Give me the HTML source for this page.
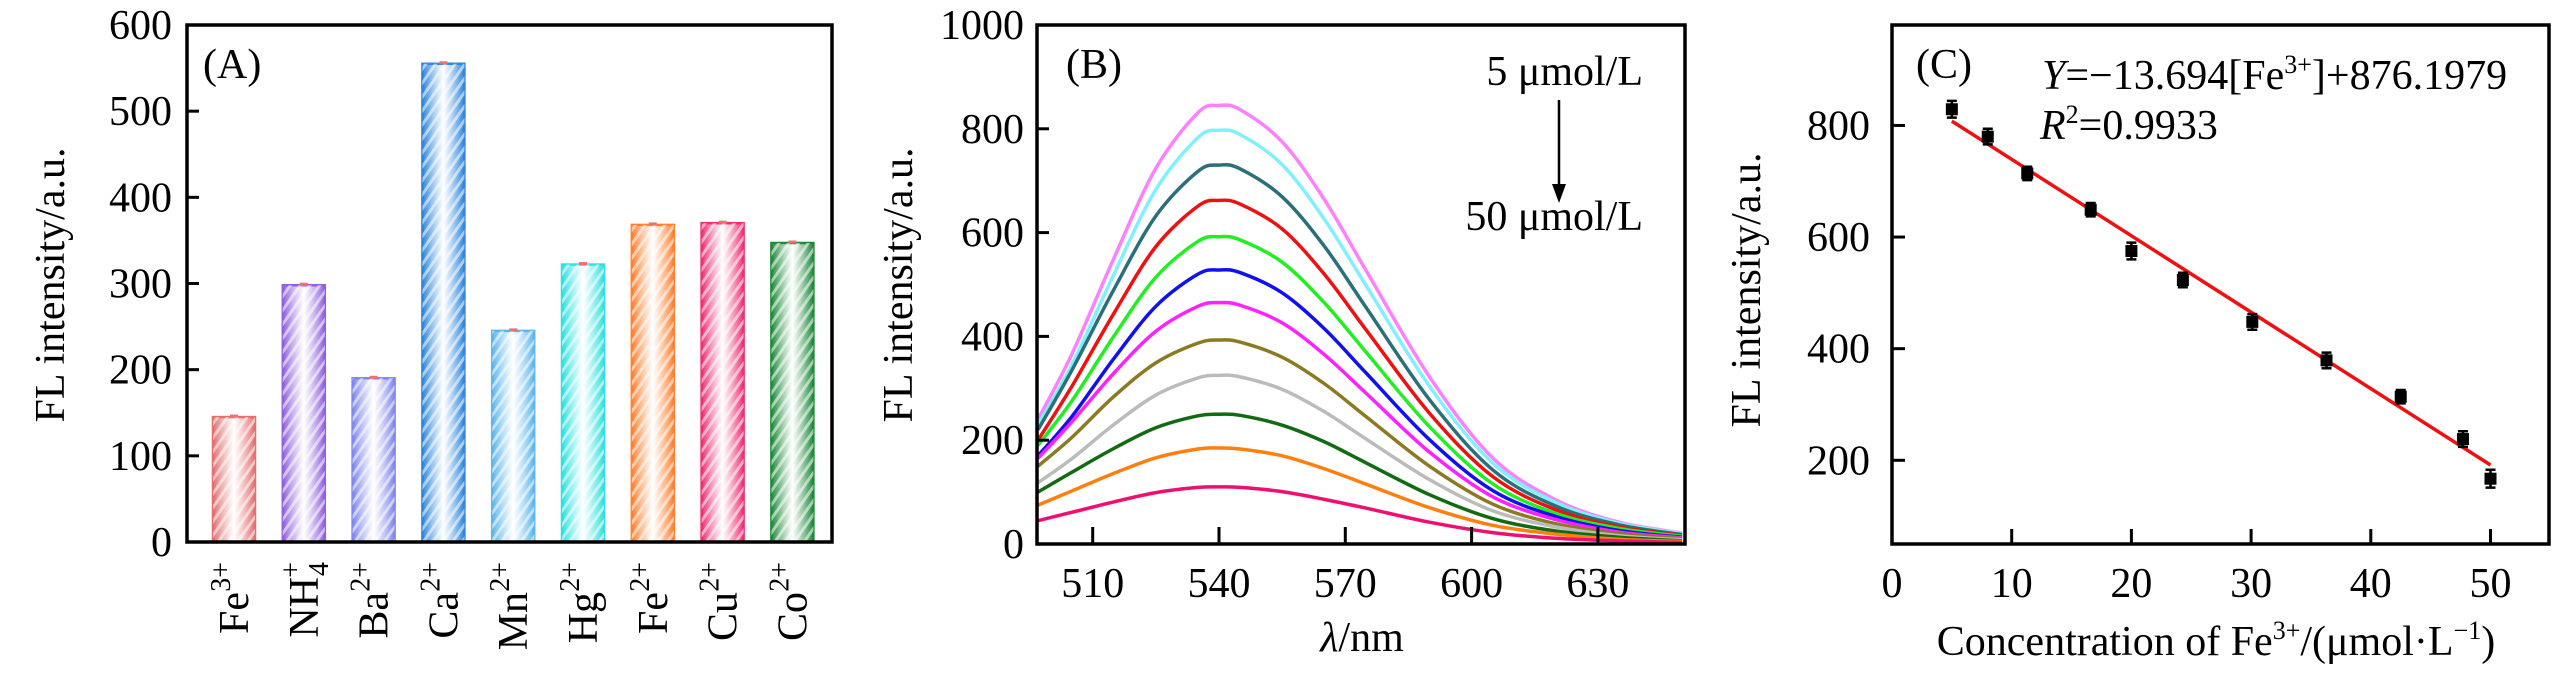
<!DOCTYPE html>
<html><head><meta charset="utf-8"><style>
html,body{margin:0;padding:0;background:#fff;}
svg, svg text{font-family:"Liberation Serif","DejaVu Serif",serif;}
</style></head><body>
<svg id="fig" width="2567" height="677" viewBox="0 0 2567 677" xmlns="http://www.w3.org/2000/svg" font-family="Liberation Serif, serif">
<defs>
<pattern id="hatch" width="8" height="8" patternUnits="userSpaceOnUse" patternTransform="rotate(35)">
<rect width="3" height="8" fill="rgba(255,255,255,0.55)"/>
</pattern>
</defs>
<g id="gA"></g>
<g id="gB"></g>
<g id="gC"></g>
</svg>
<script>
// ---------- Panel A data ----------
const ionBase = ["Fe","NH","Ba","Ca","Mn","Hg","Fe","Cu","Co"];
const ionSup = ["3+","+","2+","2+","2+","2+","2+","2+","2+"];
const ionSub = ["","4","","","","","","",""];
const ionValues = [145, 298, 190, 555, 245, 322, 368, 370, 347];
const ionColors = ["#e56f6f","#9060e0","#7f86ee","#2e86de","#5cb6ee","#2fe0e0","#ff8030","#ee2f72","#1f8a3a"];
const aTicks = [0,100,200,300,400,500,600];

// ---------- Panel B data ----------
const wavelengths = [497,505,515,525,535,540,545,555,565,575,590,605,620,635,650];
const specColors = ["#ff80ff","#80f0ff","#2a6f7a","#ee1111","#22ee22","#1111ee","#ff22ff","#8a7a22","#bbbbbb","#126a12","#ff8010","#ee1070"];
const spec1 = [240,365,550,724,831,845,837,775,664,526,322,166,85,42,21];
const spec2 = [230,344,519,683,783,797,789,731,626,497,304,156,80,40,20];
const spec3 = [220,334,490,632,718,730,723,669,574,455,278,143,73,37,18];
const spec4 = [200,303,444,573,651,662,655,607,520,412,252,130,66,33,17];
const spec5 = [190,275,400,514,583,592,586,543,465,369,226,116,59,30,15];
const spec6 = [170,245,357,458,520,528,523,484,415,329,201,103,53,26,13];
const spec7 = [165,235,329,410,458,465,460,426,365,290,177,91,47,23,12];
const spec8 = [150,205,284,349,387,393,389,360,309,245,150,77,39,20,10];
const spec9 = [118,164,230,287,320,325,322,298,255,202,124,64,33,16,8];
const spec10 = [100,138,184,224,247,250,248,229,197,156,95,49,25,13,6];
const spec11 = [75,102,136,166,183,185,183,170,145,115,70,36,19,9,5];
const spec12 = [45,61,81,99,109,110,109,101,86,69,42,22,11,6,3];
const bXTicks = [510,540,570,600,630];
const bYTicks = [0,200,400,600,800,1000];

// ---------- Panel C data ----------
const concX = [5,8,11.3,16.6,20,24.3,30.1,36.3,42.5,47.7,50];
const concY = [829,780,714,649,575,523,448,379,314,238,167];
const concErr = [15,14,12,12,15,13,14,14,12,14,16];
const fitSlope = -13.694;
const fitIntercept = 876.1979;
const cXTicks = [0,10,20,30,40,50];
const cYTicks = [200,400,600,800];

const NS = "http://www.w3.org/2000/svg";
const FF = "Liberation Serif, DejaVu Serif, serif";
function mk(parent, tag, attrs, text){
  const e = document.createElementNS(NS, tag);
  for (const k in attrs) e.setAttribute(k, attrs[k]);
  if (tag === "text") e.setAttribute("font-family", FF);
  if (text !== undefined) e.textContent = text;
  parent.appendChild(e);
  return e;
}
function smoothPath(pts){
  let d = "M" + pts[0][0] + "," + pts[0][1];
  for (let i = 0; i < pts.length - 1; i++){
    const p0 = pts[i-1] || pts[i], p1 = pts[i], p2 = pts[i+1], p3 = pts[i+2] || p2;
    const c1x = p1[0] + (p2[0]-p0[0])/6, c1y = p1[1] + (p2[1]-p0[1])/6;
    const c2x = p2[0] - (p3[0]-p1[0])/6, c2y = p2[1] - (p3[1]-p1[1])/6;
    d += " C" + c1x + "," + c1y + " " + c2x + "," + c2y + " " + p2[0] + "," + p2[1];
  }
  return d;
}
const FS = 42;

// ================= Panel A =================
(function(){
  const g = document.getElementById("gA");
  const L = 187, R = 832, T = 25, B = 542;
  const yS = v => B - (v/600)*(B-T);
  const xC = i => 234 + i*69.8;
  ionValues.forEach((v,i)=>{
    const grad = mk(g.ownerSVGElement.querySelector("defs"), "linearGradient", {id:"ga"+i, x1:"0", x2:"1", y1:"0", y2:"0"});
    mk(grad,"stop",{offset:"0","stop-color":ionColors[i]});
    mk(grad,"stop",{offset:"0.5","stop-color":"#ffffff","stop-opacity":"0.85"});
    mk(grad,"stop",{offset:"1","stop-color":ionColors[i]});
    const bar = mk(g,"rect",{x:xC(i)-21,y:yS(v),width:42,height:B-yS(v),fill:"url(#ga"+i+")",stroke:ionColors[i],"stroke-width":2.5});
    
    
    const h = mk(g,"rect",{x:xC(i)-21,y:yS(v),width:42,height:B-yS(v),fill:"url(#hatch)"});
    
    
    const cap = mk(g,"line",{x1:xC(i)-4,x2:xC(i)+4,y1:yS(v)-1,y2:yS(v)-1,stroke:"#f07070","stroke-width":3});
    
    
    // rotated label: reads bottom-to-top, ends near axis
    const px = xC(i) + 14, py = 562;
    const supW = ionSup[i].length * 15;
    const base = mk(g,"text",{x:0,y:0,"text-anchor":"end","font-size":FS,transform:"translate("+px+","+(py+supW)+") rotate(-90)"},ionBase[i]);
    
    
    const sup = mk(g,"text",{x:0,y:0,"text-anchor":"end","font-size":28,transform:"translate("+(px-18)+","+py+") rotate(-90)"},ionSup[i]);
    
    
    if (ionSub[i]){
      const sub = mk(g,"text",{x:0,y:0,"text-anchor":"end","font-size":28,transform:"translate("+(px+10)+","+py+") rotate(-90)"},ionSub[i]);
      
      
    }
  });
  aTicks.forEach(v=>{
    const tk = mk(g,"line",{x1:L,x2:L+12,y1:yS(v),y2:yS(v),stroke:"#000","stroke-width":3});
    
    
    const tl = mk(g,"text",{x:172,y:yS(v)+14,"text-anchor":"end","font-size":FS},String(v));
    
    
  });
  const box = mk(g,"rect",{x:L,y:T,width:R-L,height:B-T,fill:"none",stroke:"#000","stroke-width":3.5});
  
  
  const pl = mk(g,"text",{x:203,y:78,"font-size":FS},"(A)");
  
  
  const yt = mk(g,"text",{transform:"translate(64,285) rotate(-90)","text-anchor":"middle","font-size":FS},"FL intensity/a.u.");
  
  
})();

// ================= Panel B =================
(function(){
  const g = document.getElementById("gB");
  const L = 1037, R = 1685, T = 25, B = 544;
  const xS = w => 1219 + (w-540)*4.21;
  const yS = v => B - (v/1000)*(B-T);
  const series = [spec1,spec2,spec3,spec4,spec5,spec6,spec7,spec8,spec9,spec10,spec11,spec12];
  const clip = mk(g.ownerSVGElement.querySelector("defs"),"clipPath",{id:"clipB"});
  mk(clip,"rect",{x:L,y:T,width:R-L,height:B-T});
  series.forEach((s,k)=>{
    const pts = wavelengths.map((w,i)=>[xS(w), yS(s[i])]);
    const p = mk(g,"path",{d:smoothPath(pts),fill:"none",stroke:specColors[k],"stroke-width":3.5,"clip-path":"url(#clipB)"});
    
    
  });
  bXTicks.forEach(w=>{
    const tk = mk(g,"line",{x1:xS(w),x2:xS(w),y1:B,y2:B-17,stroke:"#000","stroke-width":3});
    
    
    const tl = mk(g,"text",{x:xS(w),y:597,"text-anchor":"middle","font-size":FS},String(w));
    
    
  });
  bYTicks.forEach(v=>{
    const tk = mk(g,"line",{x1:L,x2:L+12,y1:yS(v),y2:yS(v),stroke:"#000","stroke-width":3});
    
    
    const tl = mk(g,"text",{x:1024,y:yS(v)+14,"text-anchor":"end","font-size":FS},String(v));
    
    
  });
  const box = mk(g,"rect",{x:L,y:T,width:R-L,height:B-T,fill:"none",stroke:"#000","stroke-width":3.5});
  
  
  const pl = mk(g,"text",{x:1066,y:78,"font-size":FS},"(B)");
  
  
  const t1 = mk(g,"text",{x:1643,y:85,"text-anchor":"end","font-size":FS},"5 μmol/L");
  
  
  const t2 = mk(g,"text",{x:1643,y:230,"text-anchor":"end","font-size":FS},"50 μmol/L");
  
  
  const ar = mk(g,"line",{x1:1559,x2:1559,y1:100,y2:190,stroke:"#000","stroke-width":2.5});
  
  
  const ah = mk(g,"path",{d:"M1552,184 L1559,203 L1566,184 Z",fill:"#000"});
  
  
  const yt = mk(g,"text",{transform:"translate(912,285) rotate(-90)","text-anchor":"middle","font-size":FS},"FL intensity/a.u.");
  
  
  const xt = mk(g,"text",{x:1362,y:651,"text-anchor":"middle","font-size":FS});
  
  
  mk(xt,"tspan",{"font-style":"italic"},"λ");
  mk(xt,"tspan",{},"/nm");
})();

// ================= Panel C =================
(function(){
  const g = document.getElementById("gC");
  const L = 1892, R = 2549, T = 25, B = 544;
  const xS = c => L + c*11.97;
  const yS = v => B - (v-50)/(980-50)*(B-T);
  cXTicks.forEach(c=>{
    if (c>0){
      const tk = mk(g,"line",{x1:xS(c),x2:xS(c),y1:B,y2:B-15,stroke:"#000","stroke-width":3});
      
      
    }
    const tl = mk(g,"text",{x:xS(c),y:597,"text-anchor":"middle","font-size":FS},String(c));
    
    
  });
  cYTicks.forEach(v=>{
    const tk = mk(g,"line",{x1:L,x2:L+13,y1:yS(v),y2:yS(v),stroke:"#000","stroke-width":3});
    
    
    const tl = mk(g,"text",{x:1870,y:yS(v)+14,"text-anchor":"end","font-size":FS},String(v));
    
    
  });
  const x0 = concX[0], x1 = concX[concX.length-1];
  const fit = mk(g,"line",{x1:xS(x0),y1:yS(fitSlope*x0+fitIntercept),x2:xS(x1),y2:yS(fitSlope*x1+fitIntercept),stroke:"#ee1111","stroke-width":3.5});
  
  
  concX.forEach((c,i)=>{
    const x = xS(c), y = yS(concY[i]), e = concErr[i]*0.558;
    const eb = mk(g,"path",{d:"M"+(x-5)+","+(y-e)+" H"+(x+5)+" M"+x+","+(y-e)+" V"+(y+e)+" M"+(x-5)+","+(y+e)+" H"+(x+5),stroke:"#000","stroke-width":2.5,fill:"none"});
    
    
    const pt = mk(g,"rect",{x:x-6,y:y-6,width:12,height:12,fill:"#000"});
    
    
  });
  const box = mk(g,"rect",{x:L,y:T,width:R-L,height:B-T,fill:"none",stroke:"#000","stroke-width":3.5});
  
  
  const pl = mk(g,"text",{x:1916,y:78,"font-size":FS},"(C)");
  
  
  const eq = mk(g,"text",{x:2042,y:89,"font-size":FS});
  
  
  mk(eq,"tspan",{"font-style":"italic"},"Y");
  mk(eq,"tspan",{},"=−13.694[Fe");
  mk(eq,"tspan",{"font-size":26,dy:-16},"3+");
  mk(eq,"tspan",{dy:16},"]+876.1979");
  const r2 = mk(g,"text",{x:2040,y:139,"font-size":FS});
  
  
  mk(r2,"tspan",{"font-style":"italic"},"R");
  mk(r2,"tspan",{"font-size":26,dy:-16},"2");
  mk(r2,"tspan",{dy:16},"=0.9933");
  const yt = mk(g,"text",{transform:"translate(1760,290) rotate(-90)","text-anchor":"middle","font-size":FS},"FL intensity/a.u.");
  
  
  const xt = mk(g,"text",{x:2216,y:655,"text-anchor":"middle","font-size":FS});
  
  
  mk(xt,"tspan",{},"Concentration of Fe");
  mk(xt,"tspan",{"font-size":26,dy:-16},"3+");
  mk(xt,"tspan",{dy:16},"/(μmol·L");
  mk(xt,"tspan",{"font-size":26,dy:-16},"−1");
  mk(xt,"tspan",{dy:16},")");
})();
</script>
</body></html>
